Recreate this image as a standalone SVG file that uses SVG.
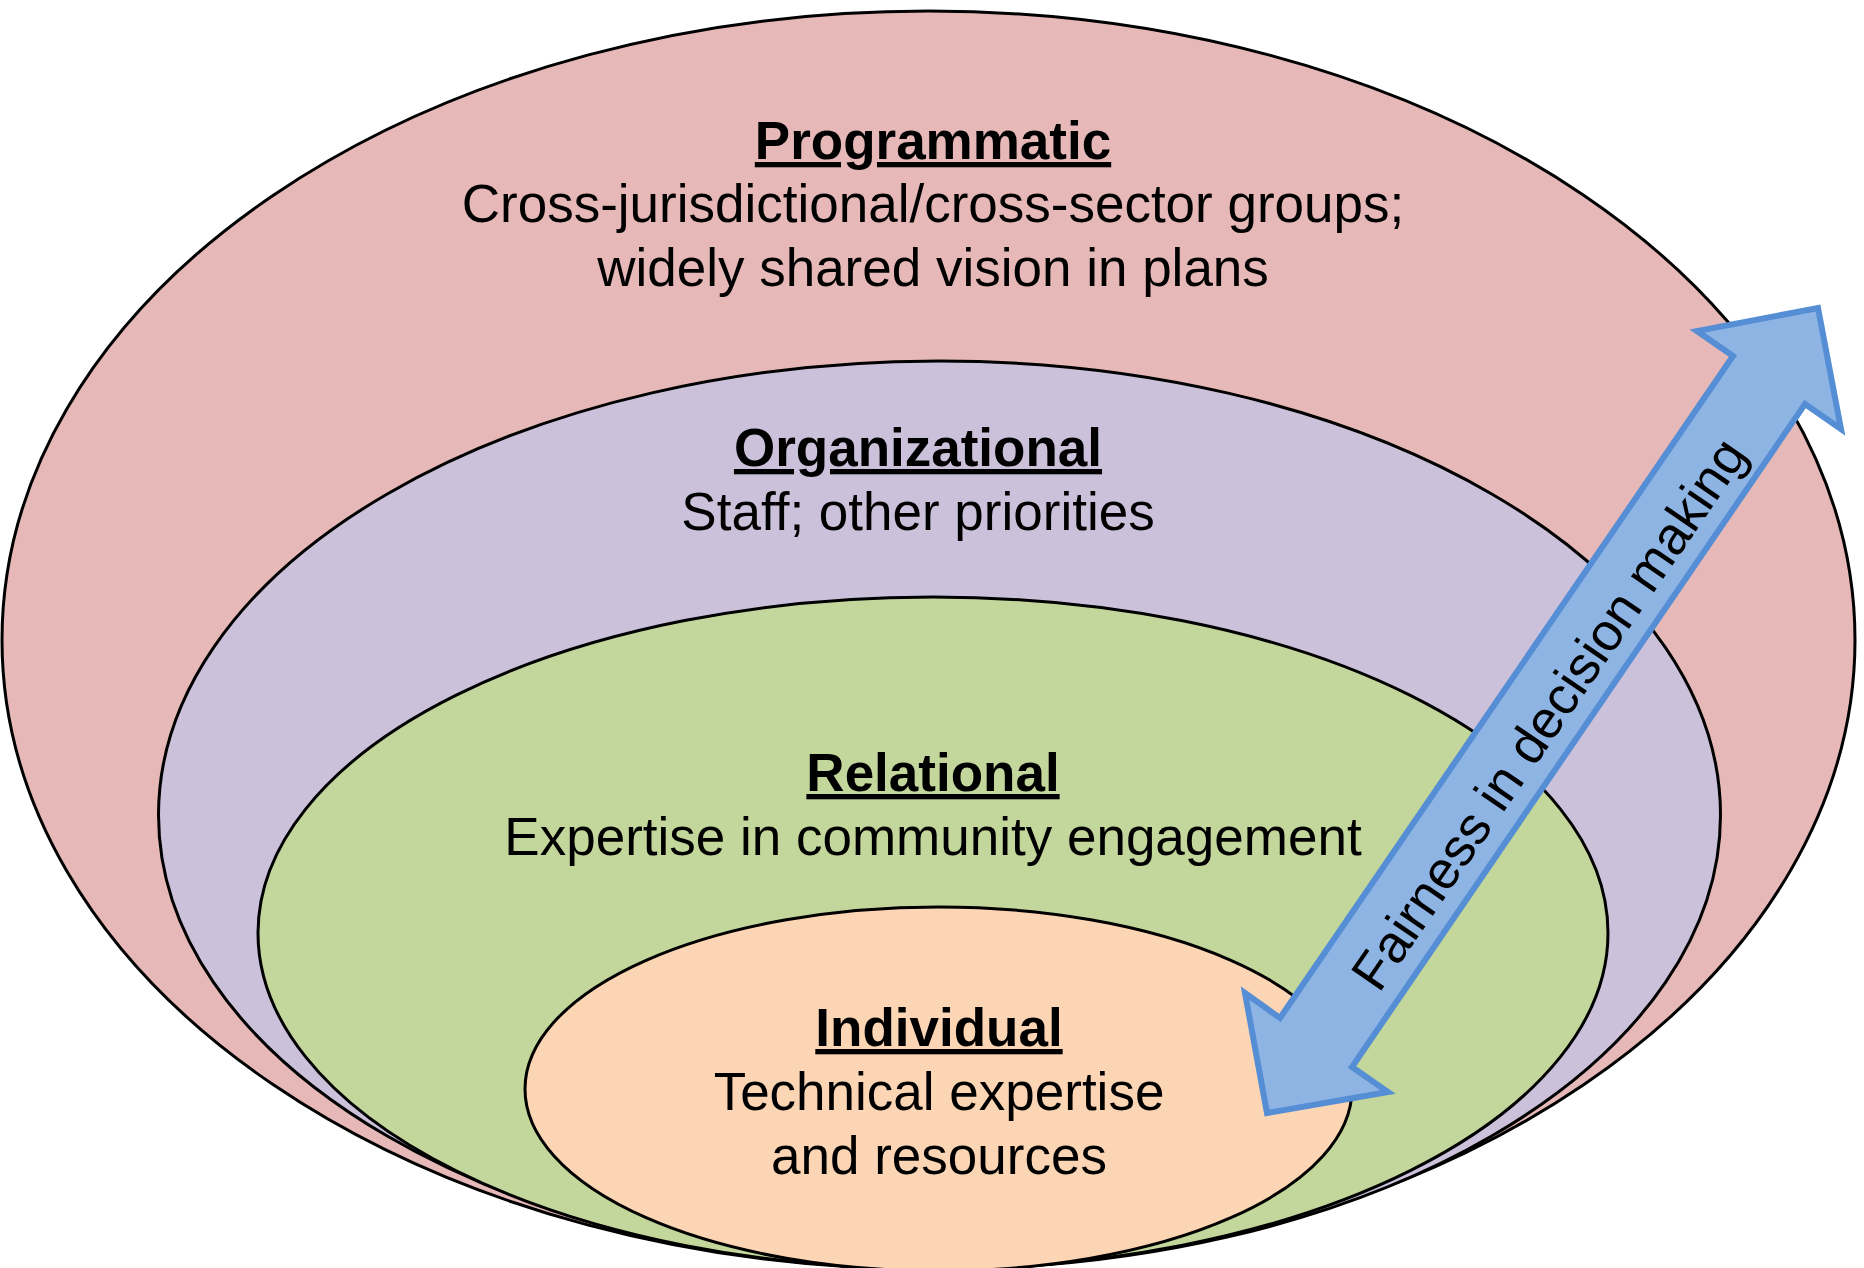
<svg xmlns="http://www.w3.org/2000/svg" width="1864" height="1268" viewBox="0 0 1864 1268">
<style>
.el{stroke:#000;stroke-width:3}
.t{font-family:"Liberation Sans",Arial,sans-serif;font-size:53px;fill:#000;text-anchor:middle}
.h{font-weight:bold;text-decoration:underline}
</style>
<rect width="1864" height="1268" fill="#fff"/>
<g id="programmatic">
<ellipse class="el" cx="928.5" cy="640" rx="926.5" ry="629" fill="#E6B9B8"/>
</g>
<g id="organizational">
<ellipse class="el" cx="939.5" cy="815" rx="781" ry="454" fill="#CCC1DA"/>
</g>
<g id="relational">
<ellipse class="el" cx="933" cy="933" rx="675" ry="336" fill="#C3D69B"/>
</g>
<g id="individual">
<ellipse class="el" cx="938.5" cy="1089" rx="413.5" ry="182" fill="#FCD5B5"/>
</g>
<g id="connectors">
<polygon points="1818,308 1841,429 1805,404 1352,1067 1388,1092 1267,1113 1245,993 1280,1018 1733,356 1697,331" fill="#8EB4E3" stroke="#558ED5" stroke-width="6" stroke-linejoin="miter"/>
<text class="t" transform="translate(1549,714) rotate(-55.6)" y="18">Fairness in decision making</text>
</g>
<g id="labels">
<text class="t h" x="933" y="159">Programmatic</text>
<text class="t" x="933" y="222">Cross-jurisdictional/cross-sector groups;</text>
<text class="t" x="933" y="286">widely shared vision in plans</text>
<text class="t h" x="918" y="466">Organizational</text>
<text class="t" x="918" y="530">Staff; other priorities</text>
<text class="t h" x="933" y="791">Relational</text>
<text class="t" x="933" y="855">Expertise in community engagement</text>
<text class="t h" x="939" y="1046">Individual</text>
<text class="t" x="939" y="1110">Technical expertise</text>
<text class="t" x="939" y="1174">and resources</text>
</g>
</svg>
